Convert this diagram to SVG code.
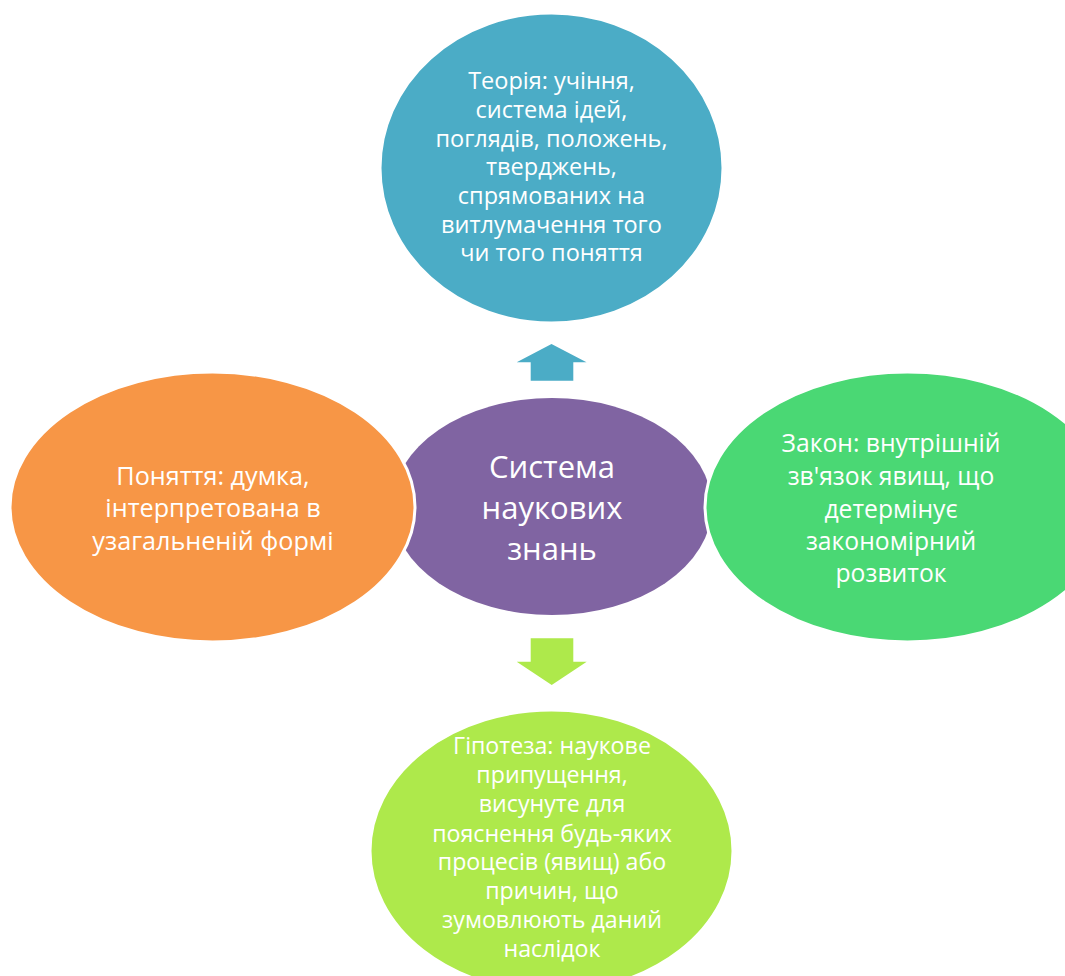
<svg xmlns="http://www.w3.org/2000/svg" width="1065" height="976" viewBox="0 0 1065 976">
<style>
.t{font-family:"Open Sans","Noto Sans","Liberation Sans",sans-serif;fill:#ffffff;text-anchor:middle;font-size:23.5px}
.c{font-size:31px}
.o{font-size:25.2px}
.g{font-size:24.7px}
.l{font-size:23.2px}
.n{stroke:#ffffff;stroke-width:3}
</style>
<rect width="1065" height="976" fill="#ffffff"/>
<g id="center">
<ellipse cx="552" cy="506.5" rx="160" ry="108.5" fill="#8064A2"/>
<text class="t c"><tspan x="552" y="478">Система</tspan><tspan x="552" y="519">наукових</tspan><tspan x="552" y="560">знань</tspan></text>
</g>
<g id="teoriya">
<ellipse cx="551.5" cy="168" rx="171.5" ry="155" fill="#4BACC6" class="n"/>
<text class="t"><tspan x="551.5" y="89">Теорія: учіння,</tspan><tspan x="551.5" y="118">система ідей,</tspan><tspan x="551.5" y="146.5">поглядів, положень,</tspan><tspan x="551.5" y="175">тверджень,</tspan><tspan x="551.5" y="203.5">спрямованих на</tspan><tspan x="551.5" y="232.5">витлумачення того</tspan><tspan x="551.5" y="261">чи того поняття</tspan></text>
</g>
<g id="ponyattya">
<ellipse cx="212.5" cy="507" rx="202.5" ry="135" fill="#F79646" class="n"/>
<text class="t o"><tspan x="213" y="485">Поняття: думка,</tspan><tspan x="213" y="517">інтерпретована в</tspan><tspan x="213" y="550">узагальненій формі</tspan></text>
</g>
<g id="zakon">
<ellipse cx="907.5" cy="507" rx="202.5" ry="135" fill="#4AD874" class="n"/>
<text class="t g"><tspan x="891" y="452">Закон: внутрішній</tspan><tspan x="891" y="484.5">зв'язок явищ, що</tspan><tspan x="891" y="517.5">детермінує</tspan><tspan x="891" y="549.5">закономірний</tspan><tspan x="891" y="581.5">розвиток</tspan></text>
</g>
<g id="gipoteza">
<ellipse cx="551.5" cy="851" rx="181.5" ry="141" fill="#AEE94B" class="n"/>
<text class="t l"><tspan x="552" y="753.5">Гіпотеза: наукове</tspan><tspan x="552" y="783">припущення,</tspan><tspan x="552" y="811.5">висунуте для</tspan><tspan x="552" y="841.5">пояснення будь-яких</tspan><tspan x="552" y="870">процесів (явищ) або</tspan><tspan x="552" y="898.5">причин, що</tspan><tspan x="552" y="928">зумовлюють даний</tspan><tspan x="552" y="956.5">наслідок</tspan></text>
</g>
<g id="connectors">
<polygon points="551.5,344 586.5,362.3 573.3,362.3 573.3,380.7 530.7,380.7 530.7,362.3 516.7,362.3" fill="#4BACC6"/>
<polygon points="530.7,638.3 573.3,638.3 573.3,661.7 586.7,661.7 551.7,685 516.7,661.7 530.7,661.7" fill="#AEE94B"/>
</g>
</svg>
